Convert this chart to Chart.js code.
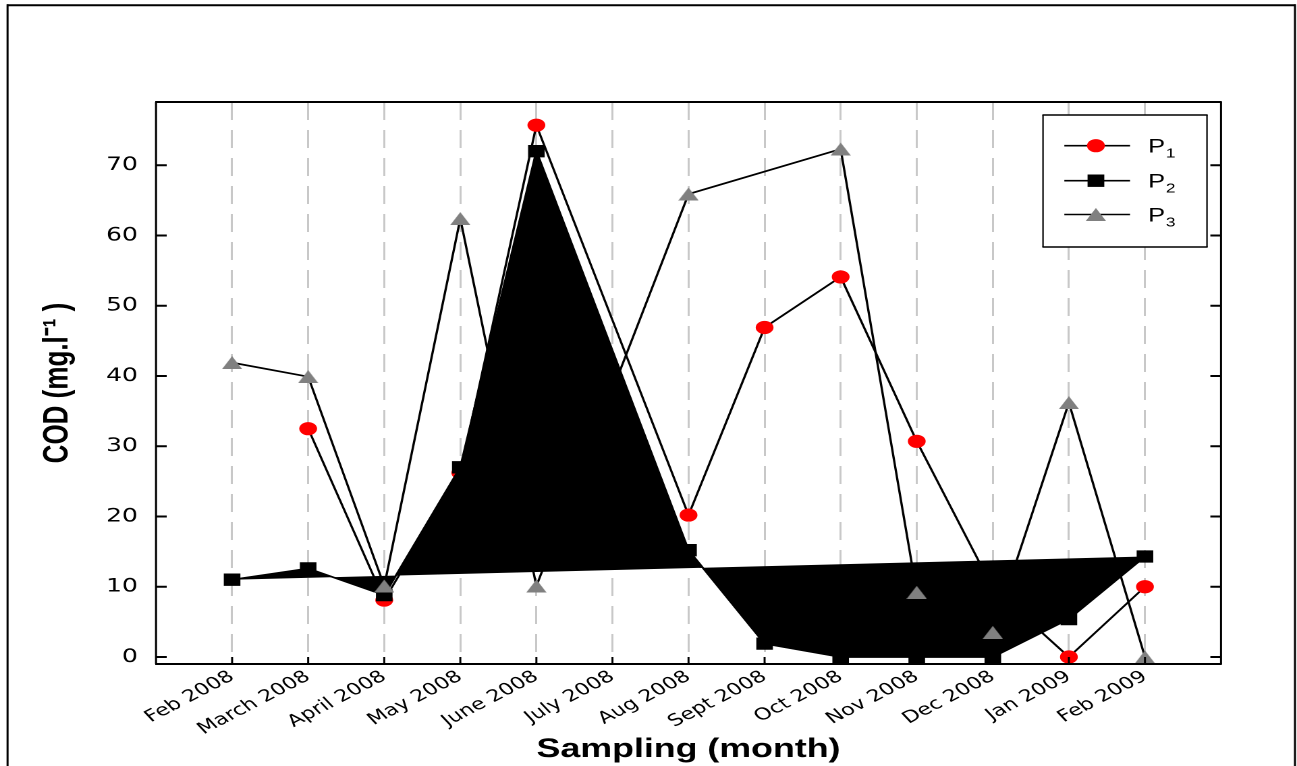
<!DOCTYPE html>
<html><head><meta charset="utf-8">
<script src="https://cdn.jsdelivr.net/npm/chart.js@4.4.1/dist/chart.umd.min.js"></script>
<style>
html,body{margin:0;padding:0;background:#fff;overflow:hidden;width:1297px;height:766px;}
#wrap{position:absolute;left:0;top:0;width:961px;height:766px;transform-origin:0 0;transform:scaleX(1.349636);}
canvas{display:block;}
</style></head><body>
<div id="wrap"><canvas id="c" width="961" height="766"></canvas></div>
<script>
// ---- data ----
const months = ['Feb 2008','March 2008','April 2008','May 2008','June 2008','July 2008','Aug 2008',
                'Sept 2008','Oct 2008','Nov 2008','Dec 2008','Jan 2009','Feb 2009'];
const P1 = [null, 32.5, 8.1, 26.2, 75.7, null, 20.2, 46.9, 54.1, 30.7, 9.8, 0.0, 10.0];
const P2 = [11.0, 12.6, 8.8, 27.0, 72.0, null, 15.2, 1.9, 0.0, 0.0, 0.0, 5.4, 14.3];
const P3 = [41.9, 39.9, 10.1, 62.4, 10.1, null, 65.9, null, 72.3, 9.2, 3.5, 36.2, 0.0];
const yTickValues = [0, 10, 20, 30, 40, 50, 60, 70];
const seriesNames = ['P', 'P', 'P'];
const seriesSubs = ['1', '2', '3'];

const toPts = arr => arr.map((v, i) => v === null ? null : {x: i, y: v}).filter(p => p);
const p2pts = toPts(P2);
const chordPts = [p2pts[0], p2pts[p2pts.length - 1]];

// triangle marker image (bounding-box centred)
function makeTri(cb){
  const k = 4, w = 15, h = 13;
  const c = document.createElement('canvas'); c.width = w * k; c.height = h * k;
  const g = c.getContext('2d');
  g.fillStyle = '#808080';
  g.beginPath(); g.moveTo(w * k / 2, 0); g.lineTo(w * k, h * k); g.lineTo(0, h * k); g.closePath(); g.fill();
  const img = new Image(); img.onload = () => { img.width = w; img.height = h; cb(img); };
  img.src = c.toDataURL();
}

makeTri(function(tri){
  const decor = {
    id: 'decor',
    beforeDraw(chart){
      const ctx = chart.ctx; ctx.save();
      ctx.fillStyle = '#fff'; ctx.fillRect(0, 0, chart.width, chart.height);
      ctx.strokeStyle = '#000';
      ctx.lineWidth = 2; ctx.beginPath(); ctx.moveTo(5, 5.3); ctx.lineTo(960, 5.3); ctx.stroke();
      ctx.lineWidth = 1.5; ctx.beginPath(); ctx.moveTo(5.6, 4.3); ctx.lineTo(5.6, 800);
      ctx.moveTo(959.5, 4.3); ctx.lineTo(959.5, 800); ctx.stroke();
      ctx.restore();
    },
    afterDatasetsDraw(chart){
      const ctx = chart.ctx, a = chart.chartArea;
      const xs = chart.scales.x, ys = chart.scales.y;
      ctx.save(); ctx.strokeStyle = '#000';
      // plot frame
      ctx.lineWidth = 2; ctx.beginPath();
      ctx.moveTo(a.left - 0.6, a.top); ctx.lineTo(a.right + 0.6, a.top);
      ctx.moveTo(a.left - 0.6, a.bottom); ctx.lineTo(a.right + 0.6, a.bottom); ctx.stroke();
      ctx.lineWidth = 1.5; ctx.beginPath();
      ctx.moveTo(a.left, a.top); ctx.lineTo(a.left, a.bottom);
      ctx.moveTo(a.right, a.top); ctx.lineTo(a.right, a.bottom); ctx.stroke();
      // inward ticks
      ctx.lineWidth = 2; ctx.beginPath();
      yTickValues.forEach(v => { const y = ys.getPixelForValue(v);
        ctx.moveTo(a.left, y); ctx.lineTo(a.left + 7.9, y);
        ctx.moveTo(a.right, y); ctx.lineTo(a.right - 7.9, y); });
      ctx.stroke();
      ctx.lineWidth = 1.5; ctx.beginPath();
      months.forEach((m, i) => { const x = xs.getPixelForValue(i);
        ctx.moveTo(x, a.bottom); ctx.lineTo(x, a.bottom - 7); });
      ctx.stroke();
      // legend
      const L = 772.8, R = 894.3, T = 115, B = 247;
      ctx.fillStyle = '#fff'; ctx.fillRect(L, T, R - L, B - T);
      ctx.lineWidth = 1.5; ctx.beginPath(); ctx.moveTo(L - 0.5, T); ctx.lineTo(R + 0.5, T);
      ctx.moveTo(L - 0.5, B); ctx.lineTo(R + 0.5, B); ctx.stroke();
      ctx.lineWidth = 1.1; ctx.beginPath(); ctx.moveTo(L, T); ctx.lineTo(L, B);
      ctx.moveTo(R, T); ctx.lineTo(R, B); ctx.stroke();
      const rows = [145.7, 180.7, 214.5];
      rows.forEach((ry, i) => {
        ctx.lineWidth = 1.6; ctx.strokeStyle = '#000';
        ctx.beginPath(); ctx.moveTo(788.6, ry); ctx.lineTo(837.3, ry); ctx.stroke();
        if (i === 0) { ctx.fillStyle = '#ff0000'; ctx.beginPath(); ctx.arc(812, ry, 6.6, 0, Math.PI * 2); ctx.fill(); }
        else if (i === 1) { ctx.fillStyle = '#000'; ctx.fillRect(812 - 6.2, ry - 6.2, 12.4, 12.4); }
        else { ctx.drawImage(tri, 812 - 7.5, ry - 6.5, 15, 13); }
        ctx.fillStyle = '#000'; ctx.textAlign = 'left'; ctx.textBaseline = 'alphabetic';
        ctx.font = '19px "Liberation Sans", Arial, sans-serif';
        ctx.fillText(seriesNames[i], 850.6, ry + 7);
        const pw = ctx.measureText(seriesNames[i]).width;
        ctx.font = '13px "Liberation Sans", Arial, sans-serif';
        ctx.fillText(seriesSubs[i], 850.6 + pw + 0.5, ry + 12);
      });
      ctx.restore();
    }
  };

  new Chart(document.getElementById('c'), {
    type: 'line',
    data: {
      datasets: [
        { label: 'P1', data: toPts(P1), order: 3, borderColor: '#000', borderWidth: 1.7,
          pointStyle: 'circle', pointRadius: 6.6, pointBackgroundColor: '#ff0000', pointBorderWidth: 0, fill: false },
        { label: 'P2', data: p2pts, order: 1, borderColor: '#000', borderWidth: 1.7, backgroundColor: '#000',
          fill: { target: 2, above: '#000', below: '#000' },
          pointStyle: 'rect', pointRadius: 8.7, pointBackgroundColor: '#000', pointBorderWidth: 0 },
        { label: 'chord', data: chordPts, order: 2, borderColor: 'rgba(0,0,0,0)', borderWidth: 0,
          pointRadius: 0, fill: false },
        { label: 'P3', data: toPts(P3), order: 0, borderColor: '#000', borderWidth: 1.7,
          pointStyle: tri, pointRadius: 8, pointBackgroundColor: '#808080', pointBorderWidth: 0, fill: false }
      ]
    },
    options: {
      responsive: false, animation: false, devicePixelRatio: 2, events: [],
      layout: { padding: { left: 0, right: 56.3, top: 102, bottom: 0 } },
      elements: { line: { tension: 0 } },
      plugins: { legend: { display: false }, tooltip: { enabled: false } },
      scales: {
        x: {
          type: 'linear', min: -1, max: 13,
          afterBuildTicks: s => { s.ticks = months.map((m, i) => ({ value: i })); },
          afterFit: s => { s.height = 102; },
          grid: { display: true, drawTicks: false, lineWidth: 1.5, color: '#c8c8c8' },
          border: { display: false, dash: [18, 10] },
          ticks: { autoSkip: false, minRotation: 35, maxRotation: 35, padding: 3,
                   color: '#000', font: { family: '"DejaVu Sans", sans-serif', size: 16.5 },
                   callback: v => months[v] },
          title: { display: true, text: 'Sampling (month)', color: '#000',
                   font: { family: '"Liberation Sans", Arial, sans-serif', size: 26.5, weight: 'bold' },
                   padding: { top: 0, bottom: 0.6 } }
        },
        y: {
          type: 'linear', min: -1, max: 79,
          afterBuildTicks: s => { s.ticks = yTickValues.map(v => ({ value: v })); },
          afterFit: s => { s.width = 115.6; },
          grid: { display: false, drawTicks: false },
          border: { display: false },
          ticks: { padding: 13.4, color: '#000',
                   font: { family: '"DejaVu Sans", sans-serif', size: 18.5 },
                   callback: v => String(v) },
          title: { display: true, text: 'COD (mg.l\u207B\u00B9 )', color: '#000',
                   font: { family: '"Liberation Sans", Arial, sans-serif', size: 26, weight: 'bold' },
                   padding: { top: 27, bottom: 0 } }
        }
      }
    },
    plugins: [decor]
  });
});
</script>
</body></html>
